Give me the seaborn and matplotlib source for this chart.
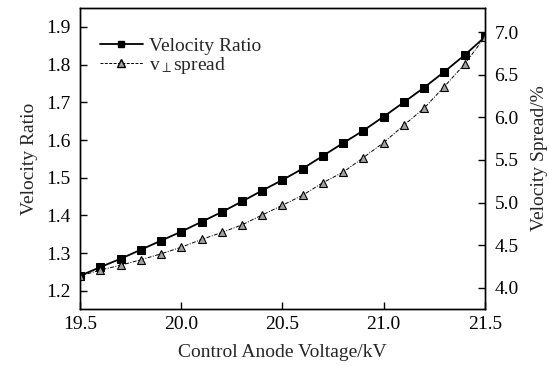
import matplotlib
matplotlib.use("Agg")
import matplotlib.pyplot as plt
import seaborn as sns
import pandas as pd
from matplotlib.lines import Line2D

voltage = [19.5, 19.6, 19.7, 19.8, 19.9, 20.0, 20.1, 20.2, 20.3, 20.4, 20.5,
           20.6, 20.7, 20.8, 20.9, 21.0, 21.1, 21.2, 21.3, 21.4, 21.5]
velocity_ratio = [1.240, 1.263, 1.285, 1.309, 1.333, 1.357, 1.383, 1.409, 1.437, 1.466, 1.494,
                  1.524, 1.558, 1.592, 1.625, 1.662, 1.700, 1.739, 1.781, 1.825, 1.873]
velocity_spread = [4.14, 4.21, 4.266, 4.33, 4.40, 4.477, 4.568, 4.65, 4.739, 4.856, 4.969,
                   5.087, 5.234, 5.357, 5.528, 5.703, 5.907, 6.107, 6.360, 6.622, 6.939]
x_ticks = [19.5, 20.0, 20.5, 21.0, 21.5]
left_ticks = [1.2, 1.3, 1.4, 1.5, 1.6, 1.7, 1.8, 1.9]
right_ticks = [4.0, 4.5, 5.0, 5.5, 6.0, 6.5, 7.0]

df = pd.DataFrame({"V": voltage, "ratio": velocity_ratio, "spread": velocity_spread})

sns.set_style("ticks")
plt.rcParams["font.family"] = ["Liberation Serif", "DejaVu Serif"]
plt.rcParams["mathtext.fontset"] = "stix"

fig = plt.figure(figsize=(5.49, 3.66), dpi=100)
ax = fig.add_subplot(111)
fig.subplots_adjust(left=0.146, right=0.883, top=0.978, bottom=0.156)
ax2 = ax.twinx()

sns.lineplot(data=df, x="V", y="ratio", ax=ax, color="black", linewidth=1.3,
             marker="s", markersize=5.5, markeredgecolor="black", markerfacecolor="black")
sns.lineplot(data=df, x="V", y="spread", ax=ax2, color="black", linewidth=0.7,
             linestyle=(0, (4, 1.5, 1, 1.5)), marker="^", markersize=6,
             markeredgecolor="black", markerfacecolor="#a0a0a0", markeredgewidth=0.8)

ax.set_xlim(19.5, 21.5)
ax.set_ylim(1.152, 1.950)
ax2.set_ylim(3.754, 7.281)
ax.set_xticks(x_ticks)
ax.set_xticklabels([f"{t:.1f}" for t in x_ticks])
ax.set_yticks(left_ticks)
ax.set_yticklabels([f"{t:.1f}" for t in left_ticks])
ax2.set_yticks(right_ticks)
ax2.set_yticklabels([f"{t:.1f}" for t in right_ticks])

ax.set_xlabel("Control Anode Voltage/kV", fontsize=14, labelpad=8)
ax.set_ylabel("Velocity Ratio", fontsize=14, labelpad=6)
ax2.set_ylabel("Velocity Spread/%", fontsize=14, labelpad=9)

for a in (ax, ax2):
    a.tick_params(direction="in", length=5, width=1, labelsize=14, colors="black")
    for s in a.spines.values():
        s.set_visible(True)
        s.set_linewidth(1)
        s.set_color("black")
ax.tick_params(axis="x", pad=5)
ax.tick_params(axis="y", pad=7)
ax2.tick_params(axis="y", pad=7)

handles = [
    Line2D([], [], color="black", linewidth=1.3, marker="s", markersize=5,
           markerfacecolor="black"),
    Line2D([], [], color="black", linewidth=0.7, linestyle=(0, (3, 1.5)), marker="^",
           markersize=6, markeredgecolor="black", markerfacecolor="#a0a0a0"),
]
ax.legend(handles, ["Velocity Ratio", r"v$_{\perp}$spread"], loc="upper left",
          bbox_to_anchor=(0.03, 0.93), frameon=False, fontsize=14, handlelength=2.2,
          handletextpad=0.3, labelspacing=0.0, borderaxespad=0)

fig.savefig("out.png", dpi=100)
